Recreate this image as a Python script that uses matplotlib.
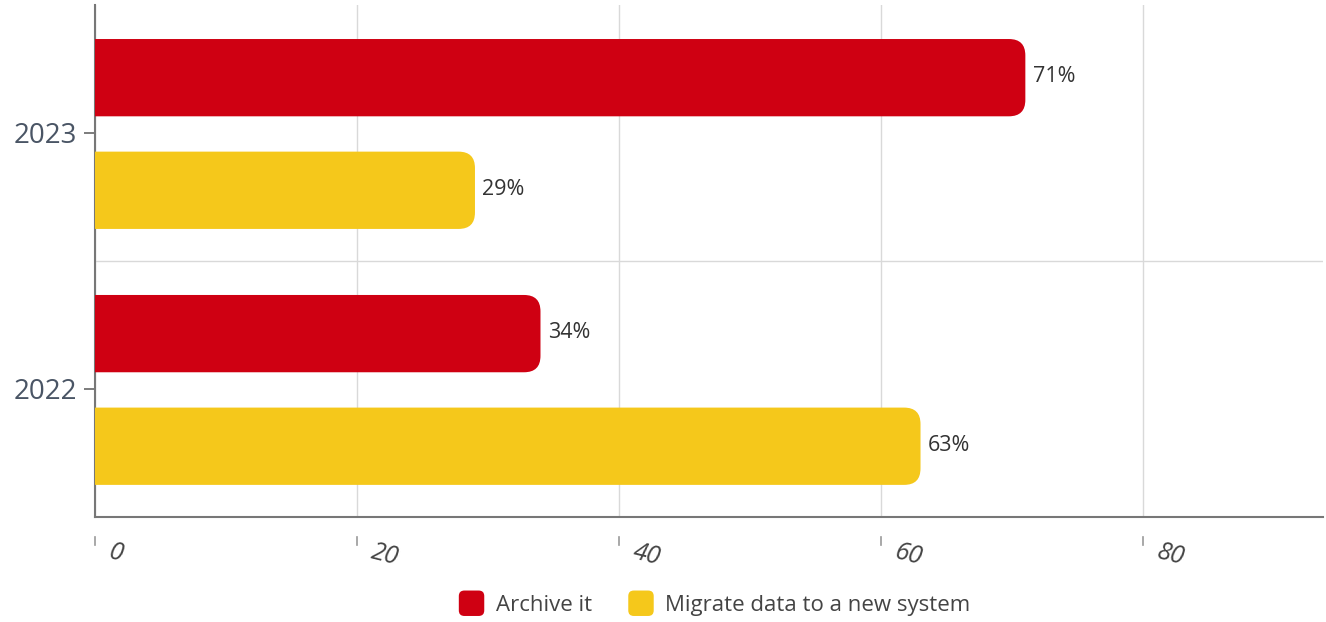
import matplotlib.pyplot as plt
from matplotlib.path import Path
from matplotlib.patches import PathPatch, Patch, FancyBboxPatch
from matplotlib.legend_handler import HandlerPatch

years = ["2022", "2023"]
series = ["Archive it", "Migrate data to a new system"]
archive = [34, 71]
migrate = [63, 29]
colors = ["#CF0012", "#F5C81B"]
x_ticks = [0, 20, 40, 60, 80]

plt.rcParams['font.family'] = ['Open Sans', 'DejaVu Sans']

fig = plt.figure(figsize=(13.26, 6.22), dpi=100)
ax = fig.add_axes([0.0716, 0.169, 0.926, 0.823])
ax.set_xlim(0, 93.7)
ax.set_ylim(-0.5, 1.5)

# bar with rounded right end, radius given in data units
def rounded_bar(ax, y, width, h, color, rx=1.25, ry=0.064):
    y0, y1 = y - h / 2, y + h / 2
    verts = [(0, y0), (width - rx, y0), (width, y0), (width, y0 + ry),
             (width, y1 - ry), (width, y1), (width - rx, y1), (0, y1), (0, y0)]
    codes = [Path.MOVETO, Path.LINETO, Path.CURVE3, Path.CURVE3,
             Path.LINETO, Path.CURVE3, Path.CURVE3, Path.LINETO, Path.CLOSEPOLY]
    ax.add_patch(PathPatch(Path(verts, codes), facecolor=color, edgecolor='none', zorder=3))

bar_h = 0.302
offset = 0.22
for i, yr in enumerate(years):
    for val, dy, col in [(archive[i], offset, colors[0]), (migrate[i], -offset, colors[1])]:
        rounded_bar(ax, i + dy - 0.004, val, bar_h, col)
        ax.text(val + 0.55, i + dy, f"{val}%", va='center', ha='left',
                fontsize=15.5, color='#333333', zorder=4)

ax.set_yticks([0, 1])
ax.set_yticklabels(years, fontsize=20, color='#4a5565')
ax.set_yticks([0.5], minor=True)
ax.tick_params(axis='y', which='major', length=8, width=1.2, color='#666666', pad=5)
ax.tick_params(axis='y', which='minor', length=0)

ax.set_xticks(x_ticks)
ax.set_xticklabels([])
ax.tick_params(axis='x', length=0)
ax.grid(axis='x', color='#d9d9d9', linewidth=1, zorder=0)
ax.grid(axis='y', which='minor', color='#d9d9d9', linewidth=1, zorder=0)
ax.set_axisbelow(True)

# detached tick marks and slanted labels below the axis
trans = ax.get_xaxis_transform()
for t in x_ticks:
    ax.plot([t, t], [-0.039, -0.055], transform=trans, color='#999999', lw=1.2, clip_on=False)
    ax.text(t + 1.3, -0.044, str(t), transform=trans, ha='left', va='top',
            fontsize=18, style='italic', color='#444444', rotation=-14,
            rotation_mode='anchor')

for s in ['top', 'right']:
    ax.spines[s].set_visible(False)
for s in ['left', 'bottom']:
    ax.spines[s].set_color('#777777')
    ax.spines[s].set_linewidth(1.5)


def round_handle(legend, orig_handle, xdescent, ydescent, width, height, fontsize):
    return FancyBboxPatch((-xdescent + 2, -ydescent - 2), height + 4, height + 4,
                          boxstyle="round,pad=0,rounding_size=4")


handles = [Patch(facecolor=c, edgecolor='none') for c in colors]
fig.legend(handles, series, loc='center', bbox_to_anchor=(0.538, 0.028), ncol=2,
           frameon=False, fontsize=16, handlelength=1.3, handleheight=1.0,
           columnspacing=1.5, handletextpad=0.5, labelcolor='#444444',
           handler_map={Patch: HandlerPatch(patch_func=round_handle)})

fig.savefig("out.png", dpi=100)
